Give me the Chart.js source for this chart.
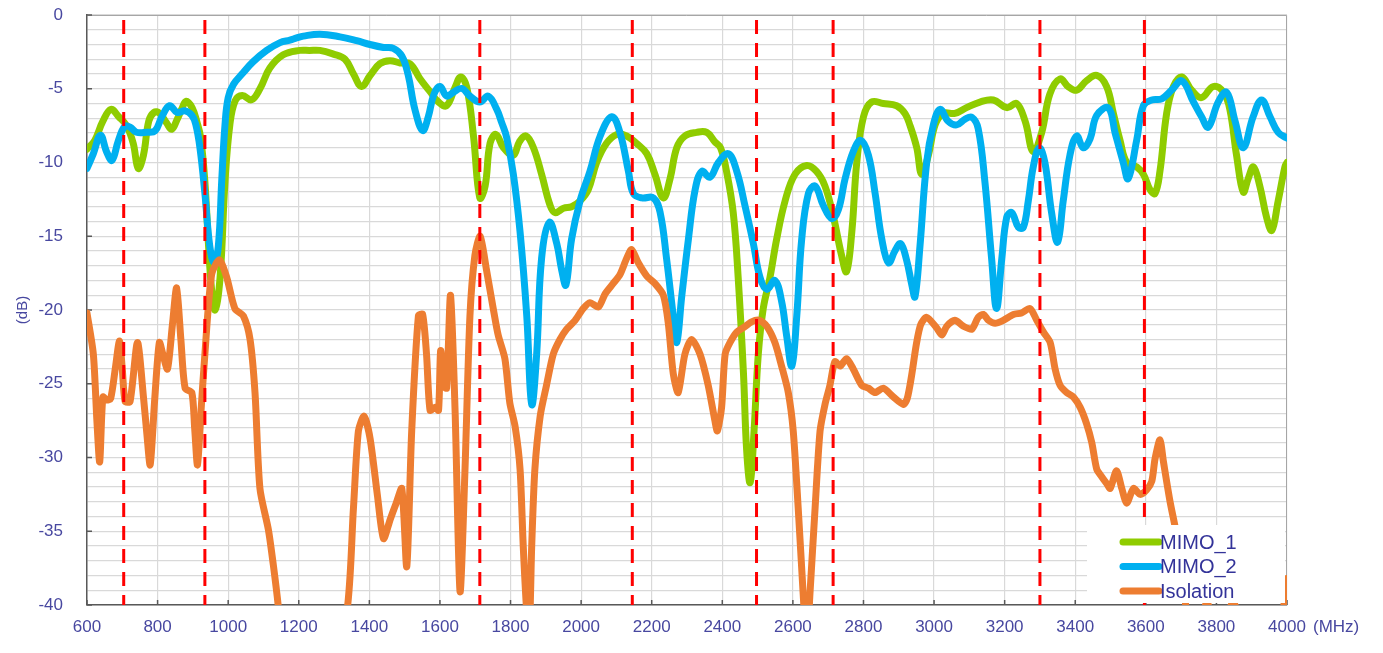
<!DOCTYPE html>
<html lang="en">
<head>
  <meta charset="UTF-8">
  <title>MIMO antenna - return loss and isolation</title>
  <script src="https://cdn.jsdelivr.net/npm/chart.js"></script>
  <style>
    html, body { margin: 0; padding: 0; background: #fff; }
    #wrap { width: 1383px; height: 653px; }
  </style>
</head>
<body>
  <div id="wrap"><canvas id="sparamChart"></canvas></div>

  <script>
    // band edges (MHz) shown as red dashed lines
    const markerFreqs = [704, 934, 1713, 2145, 2497, 2714, 3300, 3596];

    // MIMO_1 (dB)
    const mimo1Freq = [600, 622, 645, 668, 690, 712, 731, 745, 760, 775, 790, 805, 825, 840, 855, 868, 881, 898, 912, 922,
      934, 944, 953, 963, 977, 991, 1005, 1020, 1040, 1066, 1090, 1118, 1156, 1203, 1230, 1260, 1298, 1331, 1355, 1378,
      1402, 1430, 1458, 1487, 1515, 1543, 1572, 1596, 1619, 1643, 1659, 1676, 1695, 1713, 1728, 1742, 1759, 1780, 1808, 1825,
      1844, 1865, 1888, 1912, 1926, 1950, 1973, 1997, 2020, 2044, 2072, 2101, 2129, 2157, 2186, 2209, 2233, 2252, 2271, 2294,
      2327, 2356, 2379, 2395, 2412, 2431, 2445, 2460, 2469, 2479, 2490, 2502, 2516, 2535, 2554, 2578, 2606, 2639, 2667, 2691,
      2715, 2738, 2752, 2767, 2781, 2800, 2823, 2856, 2894, 2918, 2932, 2951, 2965, 2984, 3003, 3026, 3059, 3092, 3130, 3168,
      3206, 3234, 3258, 3281, 3305, 3328, 3357, 3380, 3404, 3432, 3461, 3489, 3508, 3527, 3546, 3574, 3593, 3612, 3626, 3640,
      3659, 3678, 3702, 3730, 3758, 3791, 3820, 3838, 3857, 3876, 3890, 3905, 3923, 3942, 3957, 3975, 3994, 4000];
    const mimo1Db = [-9.1, -8.5, -7.2, -6.4, -6.9, -7.5, -8.7, -10.4, -9.5, -7.2, -6.6, -6.65, -7.3, -7.75, -7.1, -6.4, -5.85, -6.3, -7.3, -8.3,
      -11.3, -15.5, -18.6, -20.0, -17.8, -11.3, -7.4, -5.8, -5.45, -5.75, -5.0, -3.6, -2.7, -2.4, -2.4, -2.4, -2.65, -3.0, -4.0, -4.85,
      -4.1, -3.3, -3.1, -3.25, -3.3, -4.3, -5.2, -5.9, -6.15, -4.9, -4.2, -4.9, -8.2, -12.4, -11.6, -8.7, -8.1, -9.0, -9.5, -8.6,
      -8.2, -9.0, -10.8, -12.9, -13.4, -13.1, -13.0, -12.6, -11.85, -10.0, -8.7, -8.1, -8.2, -8.7, -9.4, -10.8, -12.4, -11.1, -9.0, -8.2,
      -7.96, -7.96, -8.6, -9.0, -10.6, -13.4, -17.8, -24.3, -29.5, -31.7, -28.2, -23.0, -19.9, -17.8, -15.2, -12.6, -10.8, -10.2, -10.6, -11.6,
      -13.7, -16.3, -17.4, -14.7, -10.0, -6.9, -5.9, -6.0, -6.15, -6.7, -7.5, -9.0, -10.8, -9.5, -7.45, -6.67, -6.67, -6.28, -5.9, -5.76,
      -6.28, -6.0, -7.2, -9.26, -7.96, -5.37, -4.33, -4.85, -5.1, -4.46, -4.1, -4.85, -6.67, -8.5, -10.0, -10.3, -10.8, -11.85, -12.1, -10.6,
      -6.67, -4.85, -4.2, -5.1, -5.6, -4.85, -5.24, -6.4, -9.5, -12.0, -11.1, -10.3, -11.6, -13.7, -14.6, -12.6, -10.3, -10.0];

    // MIMO_2 (dB)
    const mimo2Freq = [600, 618, 638, 656, 671, 689, 707, 722, 740, 769, 793, 812, 834, 855, 878, 897, 908, 920, 934, 948,
      960, 972, 982, 991, 1000, 1015, 1043, 1071, 1109, 1147, 1175, 1194, 1213, 1260, 1317, 1364, 1402, 1440, 1468, 1492,
      1510, 1529, 1551, 1567, 1583, 1600, 1619, 1638, 1662, 1685, 1713, 1737, 1761, 1775, 1789, 1808, 1827, 1846, 1860, 1874,
      1888, 1910, 1931, 1945, 1957, 1973, 1997, 2025, 2054, 2087, 2110, 2134, 2148, 2172, 2205, 2224, 2242, 2261, 2271, 2285,
      2304, 2323, 2342, 2365, 2389, 2417, 2441, 2464, 2488, 2507, 2526, 2549, 2568, 2582, 2597, 2611, 2625, 2644, 2663, 2686,
      2710, 2729, 2748, 2771, 2792, 2814, 2833, 2852, 2871, 2889, 2905, 2922, 2937, 2946, 2960, 2979, 2998, 3017, 3040, 3064,
      3088, 3107, 3125, 3144, 3163, 3177, 3192, 3206, 3220, 3239, 3253, 3267, 3281, 3298, 3314, 3333, 3350, 3366, 3385, 3404,
      3423, 3442, 3461, 3494, 3513, 3536, 3550, 3574, 3593, 3617, 3645, 3673, 3702, 3735, 3758, 3777, 3805, 3829, 3853, 3876,
      3904, 3928, 3952, 3975, 4000];
    const mimo2Db = [-10.4, -9.4, -8.15, -9.3, -9.85, -8.5, -7.55, -7.6, -7.95, -7.95, -7.85, -6.9, -6.15, -6.6, -6.5, -6.8, -7.4, -9.0, -12.1, -15.7,
      -16.8, -15.7, -11.1, -7.45, -5.6, -4.7, -3.9, -3.16, -2.4, -1.87, -1.7, -1.55, -1.43, -1.3, -1.48, -1.74, -2.0, -2.2, -2.26, -2.78,
      -4.07, -6.4, -7.83, -6.9, -5.37, -4.85, -5.5, -5.24, -4.98, -5.5, -5.9, -5.5, -6.4, -7.3, -8.3, -10.8, -14.7, -20.4, -26.4, -23.0,
      -16.5, -14.06, -15.5, -17.3, -18.3, -15.2, -12.6, -10.6, -8.2, -6.9, -7.96, -10.6, -12.1, -12.4, -12.4, -13.4, -16.5, -20.4, -22.2, -19.1,
      -15.2, -11.85, -10.6, -11.0, -10.0, -9.4, -10.6, -12.9, -15.5, -17.8, -18.6, -18.0, -19.4, -21.7, -23.8, -20.4, -15.2, -12.1, -11.6, -12.9,
      -13.8, -13.2, -11.1, -9.26, -8.5, -9.5, -12.1, -15.2, -16.8, -16.0, -15.5, -16.6, -18.3, -19.1, -15.7, -10.0, -7.45, -6.4, -7.2, -7.45,
      -7.06, -6.93, -7.7, -11.3, -16.5, -19.9, -16.5, -13.7, -13.4, -14.4, -14.4, -12.6, -10.3, -9.0, -10.0, -13.4, -15.4, -12.6, -9.5, -8.2,
      -9.0, -8.4, -6.8, -6.3, -8.0, -10.0, -11.1, -8.5, -6.15, -5.76, -5.68, -5.1, -4.46, -5.9, -6.9, -7.6, -5.9, -5.24, -7.2, -9.0,
      -6.9, -5.76, -6.9, -7.96, -8.35];

    // Isolation (dB); values under -40 fall below the plot
    const isoFreq = [600, 618, 628, 636, 645, 656, 667, 680, 692, 700, 708, 722, 743, 760, 770, 779, 792, 805, 815, 828,
      842, 854, 866, 878, 897, 905, 913, 924, 934, 953, 975, 996, 1019, 1043, 1062, 1076, 1090, 1114, 1128, 1142,
      1160, 1240, 1333, 1355, 1369, 1385, 1402, 1423, 1440, 1459, 1476, 1492, 1506, 1520, 1539, 1551, 1562, 1572, 1586, 1596,
      1602, 1612, 1619, 1630, 1643, 1657, 1671, 1685, 1699, 1714, 1732, 1751, 1765, 1784, 1798, 1813, 1827, 1836, 1846, 1853,
      1860, 1869, 1884, 1902, 1921, 1940, 1959, 1983, 2006, 2025, 2049, 2068, 2091, 2110, 2129, 2143, 2162, 2186, 2209, 2233,
      2247, 2261, 2275, 2294, 2313, 2337, 2360, 2379, 2386, 2398, 2408, 2422, 2441, 2460, 2483, 2505, 2526, 2549, 2568, 2587,
      2601, 2615, 2630, 2639, 2648, 2663, 2677, 2691, 2705, 2719, 2734, 2752, 2771, 2795, 2814, 2833, 2856, 2885, 2913, 2924,
      2936, 2950, 2962, 2979, 3007, 3022, 3036, 3059, 3083, 3107, 3125, 3140, 3154, 3173, 3196, 3225, 3248, 3272, 3291, 3310,
      3329, 3343, 3357, 3376, 3395, 3414, 3432, 3447, 3461, 3475, 3490, 3499, 3517, 3532, 3546, 3565, 3584, 3602, 3617, 3626,
      3640, 3650, 3668, 3687, 3702, 3716, 3745, 3773, 3805, 3847, 3890, 3950, 3985, 4000];
    const isoDb = [-20.2, -23.0, -27.5, -30.3, -25.9, -26.1, -26.0, -24.0, -22.1, -24.0, -26.2, -26.2, -22.2, -25.9, -28.5, -30.5, -26.0, -22.2, -23.0, -24.0,
      -21.0, -18.5, -22.0, -25.3, -25.6, -28.0, -30.5, -26.5, -23.0, -17.6, -16.6, -17.8, -19.9, -20.4, -22.0, -25.6, -32.1, -34.9, -37.3, -40.1,
      -45, -48, -41, -33.4, -28.2, -27.2, -28.7, -32.6, -35.5, -34.2, -33.1, -32.1, -37.4, -28.2, -20.4, -20.3, -23.0, -26.8, -26.6, -26.8,
      -22.75, -25.2, -25.3, -19.0, -26.9, -39.1, -30.8, -20.4, -16.3, -15.0, -17.3, -19.9, -21.7, -23.3, -26.3, -27.9, -30.8, -36.0, -40.5, -42,
      -36.0, -30.8, -27.2, -25.1, -23.0, -22.0, -21.3, -20.7, -19.9, -19.5, -19.8, -18.9, -18.2, -17.6, -16.5, -15.9, -16.8, -17.7, -18.2, -19.0,
      -20.9, -24.3, -25.6, -23.0, -22.0, -23.0, -25.1, -27.5, -28.2, -26.6, -23.0, -22.2, -21.5, -21.2, -20.8, -20.7, -21.1, -22.2, -23.8, -25.6,
      -28.2, -33.4, -39.6, -43, -39.4, -33.4, -28.2, -26.4, -25.1, -23.5, -23.8, -23.3, -24.0, -25.1, -25.3, -25.6, -25.3, -25.9, -26.4, -26.0,
      -24.5, -22.3, -21.0, -20.5, -21.2, -21.7, -21.1, -20.7, -21.1, -21.3, -20.5, -20.3, -20.7, -20.9, -20.7, -20.3, -20.2, -19.9, -20.7, -21.5,
      -22.2, -24.0, -25.1, -25.6, -25.9, -26.6, -27.7, -29.0, -30.8, -31.3, -31.8, -32.1, -30.9, -32.1, -33.1, -32.1, -32.5, -32.2, -31.6, -30.1,
      -28.8, -30.3, -32.9, -35.2, -37.5, -40.5, -43, -39.8, -43, -39.8, -43, -44, -41, -38.2];

    const toPoints = (xs, ys) => xs.map((f, i) => ({ x: f, y: ys[i] }));

    const curve = (label, xs, ys, color, order, tension) => ({
      label: label,
      data: toPoints(xs, ys),
      borderColor: color,
      backgroundColor: color,
      borderWidth: 7,
      borderCapStyle: 'round',
      borderJoinStyle: 'round',
      pointRadius: 0,
      tension: tension,
      clip: 0,
      order: order
    });

    const markerSets = markerFreqs.map(f => ({
      label: '',
      isMarker: true,
      data: [{ x: f, y: 0 }, { x: f, y: -40 }],
      borderColor: '#ff0000',
      borderWidth: 3,
      borderDash: [14, 9],
      borderDashOffset: 18,
      pointRadius: 0,
      clip: 0,
      order: 0
    }));

    const tickColor = '#4848a0';

    // frame, inward ticks, legend over the data, (MHz) unit
    const overlay = {
      id: 'overlay',
      beforeDatasetsDraw(chart) {
        const { ctx, chartArea: a, scales: { x, y } } = chart;
        ctx.save();
        ctx.strokeStyle = '#a6a6a6';
        ctx.lineWidth = 1;
        ctx.beginPath();
        ctx.moveTo(a.left, a.top + 0.5);
        ctx.lineTo(a.right - 0.5, a.top + 0.5);
        ctx.lineTo(a.right - 0.5, a.bottom);
        ctx.stroke();

        ctx.strokeStyle = '#595959';
        ctx.lineWidth = 1.5;
        ctx.beginPath();
        x.ticks.forEach(t => {
          const px = x.getPixelForValue(t.value);
          ctx.moveTo(px, a.bottom);
          ctx.lineTo(px, a.bottom - 5);
        });
        y.ticks.forEach(t => {
          if (t.value % 5 !== 0) return;
          const py = y.getPixelForValue(t.value);
          ctx.moveTo(a.left, py);
          ctx.lineTo(a.left + 5, py);
        });
        ctx.stroke();
        ctx.restore();
      },
      afterDatasetsDraw(chart) {
        const { ctx, chartArea: a } = chart;
        const items = chart.data.datasets.filter(d => !d.isMarker);
        const left = a.right - 200;
        ctx.save();
        ctx.fillStyle = '#ffffff';
        ctx.fillRect(left, a.bottom - 80, 198, 78);
        ctx.font = '20px "Liberation Sans", Arial, sans-serif';
        ctx.textBaseline = 'middle';
        ctx.textAlign = 'left';
        items.forEach((d, i) => {
          const rowY = a.bottom - 63 + i * 24.5;
          ctx.strokeStyle = d.borderColor;
          ctx.lineWidth = 7;
          ctx.lineCap = 'round';
          ctx.beginPath();
          ctx.moveTo(left + 36, rowY);
          ctx.lineTo(left + 72, rowY);
          ctx.stroke();
          ctx.fillStyle = '#333399';
          ctx.fillText(d.label, left + 73, rowY + 1);
        });
        ctx.restore();
      },
      afterDraw(chart) {
        const { ctx, chartArea: a } = chart;
        ctx.save();
        ctx.font = '17px "Liberation Sans", Arial, sans-serif';
        ctx.fillStyle = tickColor;
        ctx.textBaseline = 'middle';
        ctx.textAlign = 'left';
        ctx.fillText('(MHz)', a.right + 26, 627);
        ctx.restore();
      }
    };

    const ctx = document.getElementById('sparamChart').getContext('2d');

    const chart = new Chart(ctx, {
      type: 'line',
      data: {
        datasets: [
          ...markerSets,
          curve('MIMO_1', mimo1Freq, mimo1Db, '#8fcc00', 3, 0.4),
          curve('MIMO_2', mimo2Freq, mimo2Db, '#00b0f0', 2, 0.4),
          curve('Isolation', isoFreq, isoDb, '#ed7d31', 1, 0.25)
        ]
      },
      options: {
        responsive: true,
        maintainAspectRatio: false,
        animation: false,
        layout: { padding: { left: 0, right: 96, top: 15, bottom: 0 } },
        plugins: {
          legend: { display: false },
          tooltip: { enabled: false }
        },
        scales: {
          x: {
            type: 'linear',
            min: 600,
            max: 4000,
            grid: { color: '#d9d9d9', lineWidth: 1.2, drawTicks: false },
            border: { color: '#595959', width: 1.5 },
            ticks: {
              stepSize: 200,
              autoSkip: false,
              maxRotation: 0,
              padding: 12,
              color: tickColor,
              font: { family: '"Liberation Sans", Arial, sans-serif', size: 17 },
              callback: v => String(v)
            },
            afterFit(scale) {
              scale.height = 48;
              scale.paddingLeft = 0;
              scale.paddingRight = 0;
            }
          },
          y: {
            min: -40,
            max: 0,
            grid: { color: '#d9d9d9', lineWidth: 1.2, drawTicks: false },
            border: { color: '#595959', width: 1.5 },
            ticks: {
              stepSize: 1,
              maxTicksLimit: 100,
              autoSkip: false,
              padding: 24,
              color: tickColor,
              font: { family: '"Liberation Sans", Arial, sans-serif', size: 17 },
              callback: v => (v % 5 === 0 ? String(v) : '')
            },
            title: {
              display: true,
              text: '(dB)',
              color: tickColor,
              padding: { top: 14, bottom: 0 },
              font: { family: '"Liberation Sans", Arial, sans-serif', size: 15 }
            },
            afterFit(scale) {
              scale.width = 87;
              scale.paddingTop = 0;
              scale.paddingBottom = 0;
            }
          }
        }
      },
      plugins: [overlay]
    });
  </script>
</body>
</html>
